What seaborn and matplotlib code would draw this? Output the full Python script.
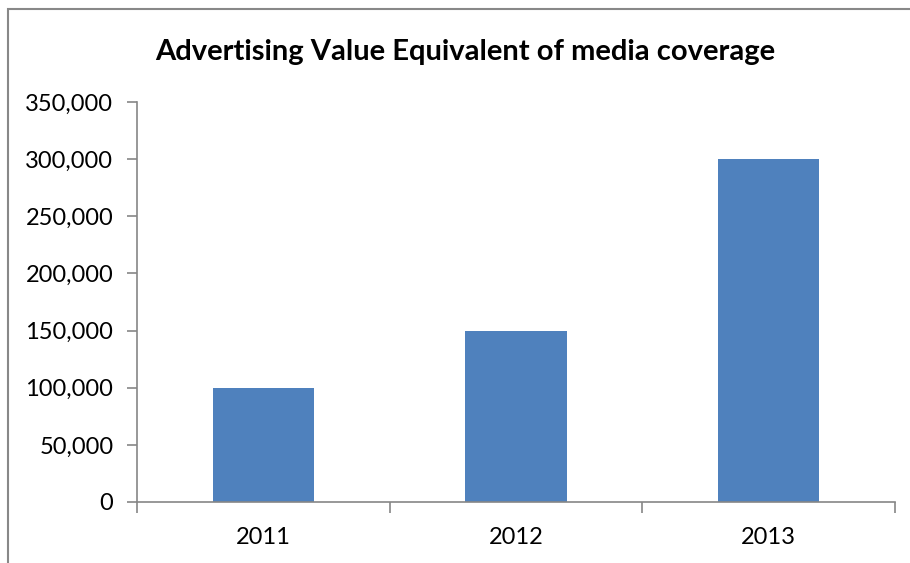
import matplotlib
matplotlib.use("Agg")
import matplotlib.pyplot as plt
from matplotlib.patches import Rectangle
from matplotlib.ticker import FuncFormatter
import seaborn as sns
import pandas as pd

years = ["2011", "2012", "2013"]
ave_values = [100000, 150000, 300000]
y_ticks = [0, 50000, 100000, 150000, 200000, 250000, 300000, 350000]

sns.set_theme(style="white")
plt.rcParams["font.family"] = ["Lato", "DejaVu Sans"]

df = pd.DataFrame({"year": years, "value": ave_values})

W, H = 910, 563
fig = plt.figure(figsize=(W / 100, H / 100), dpi=100)
ax = fig.add_axes([137 / W, 1 - 502 / H, (895 - 137) / W, (502 - 102) / H])

sns.barplot(data=df, x="year", y="value", color="#4F81BD", width=0.4,
            saturation=1, linewidth=0, ax=ax)

ax.set_xlim(-0.5, 2.5)
ax.set_ylim(0, 350000)
ax.set_yticks(y_ticks)
ax.yaxis.set_major_formatter(FuncFormatter(lambda v, p: f"{int(v):,}"))
ax.set_xlabel("")
ax.set_ylabel("")

axis_grey = "#868686"
for side in ["top", "right"]:
    ax.spines[side].set_visible(False)
for side in ["left", "bottom"]:
    ax.spines[side].set_color(axis_grey)
    ax.spines[side].set_linewidth(1.2)

# category labels centred, tick marks at the category boundaries
ax.set_xticks([0, 1, 2])
ax.set_xticks([-0.5, 0.5, 1.5, 2.5], minor=True)
ax.tick_params(axis="x", which="major", length=0, pad=18, labelsize=17,
               labelcolor="black")
ax.tick_params(axis="x", which="minor", length=8, width=1.2, color=axis_grey,
               direction="out", bottom=True)
ax.tick_params(axis="y", which="major", length=7, width=1.2, color=axis_grey,
               direction="out", left=True, pad=10, labelsize=17,
               labelcolor="black")

fig.text(465 / W, 1 - 52 / H, "Advertising Value Equivalent of media coverage",
         ha="center", va="center", fontsize=21, fontweight="bold", color="black")

# chart-area frame
fig.patches.append(Rectangle((8 / W, -0.1), 1.2, 1 - 9 / H + 0.1,
                             transform=fig.transFigure, fill=False,
                             edgecolor="#888888", linewidth=1.5))

fig.savefig("out.png", dpi=100)
